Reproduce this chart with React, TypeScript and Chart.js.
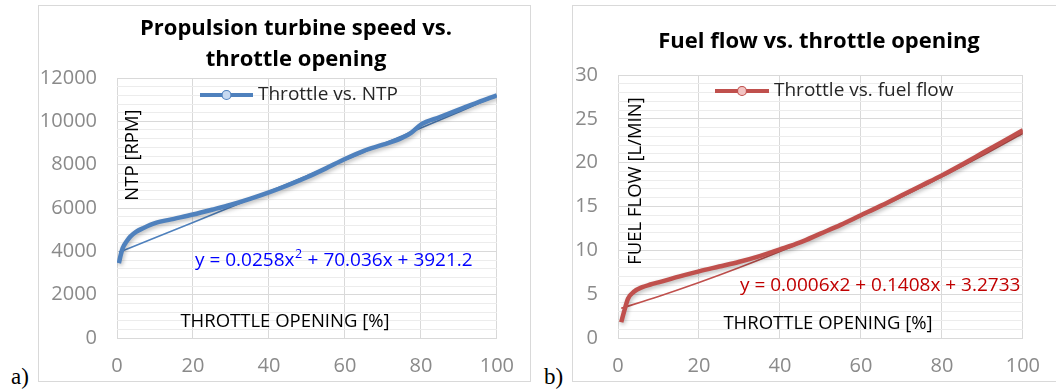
import React, { useEffect, useRef } from "react";
import { Chart, registerables } from "chart.js";

Chart.register(...registerables);

// ---------- Data ----------
const ntpThrottle = [0.5, 1, 1.5, 2.5, 3.5, 5, 7, 10, 15, 20, 25, 30, 35, 40, 45, 50, 55, 60, 65, 70, 75, 77.5, 80, 85, 90, 95, 100];
const ntpRpm = [3450, 3850, 4150, 4450, 4680, 4900, 5080, 5300, 5500, 5700, 5920, 6150, 6420, 6720, 7050, 7420, 7830, 8260, 8640, 8920, 9230, 9480, 9850, 10200, 10540, 10880, 11200];
const ntpTrendThrottle = [0.5, 10, 20, 30, 40, 50, 60, 70, 80, 90, 100];
const ntpTrendRpm = [3956, 4624, 5332, 6045, 6764, 7488, 8216, 8950, 9689, 10433, 11183];

const fuelThrottle = [0.8, 1.5, 2.5, 4, 6, 8, 10, 15, 20, 25, 30, 35, 40, 45, 50, 55, 60, 65, 70, 75, 80, 85, 90, 95, 100];
const fuelFlow = [1.8, 3.0, 4.5, 5.3, 5.8, 6.1, 6.35, 7.0, 7.6, 8.15, 8.7, 9.35, 10.1, 10.9, 11.9, 12.9, 14.0, 15.1, 16.25, 17.4, 18.55, 19.8, 21.1, 22.4, 23.7];
const fuelTrendThrottle = [0.8, 10, 20, 30, 40, 50, 60, 70, 80, 90, 100];
const fuelTrendFlow = [3.39, 4.74, 6.33, 8.04, 9.87, 11.81, 13.88, 16.07, 18.38, 20.81, 23.35];

const xTicks = [0, 20, 40, 60, 80, 100];
const ntpTicks = [0, 2000, 4000, 6000, 8000, 10000, 12000];
const fuelTicks = [0, 5, 10, 15, 20, 25, 30];

const FONT = "'Open Sans', 'DejaVu Sans', sans-serif";

type Deco = {
  offX: number;
  offY: number;
  titleLines: string[];
  titleX: number;
  titleY: number;
  titleGap: number;
  legendX1: number;
  legendX2: number;
  legendY: number;
  markerFill: string;
  yTitle: string;
  yTitleX: number;
  yTitleY: number;
  xTitle: string;
  xTitleX: number;
  xTitleY: number;
  eqParts: [string, string, string];
  eqX: number;
  eqY: number;
  eqColor: string;
};

function makeDecorPlugin(d: Deco) {
  return {
    id: "decor",
    beforeDatasetDraw(chart: any, args: any) {
      if (args.index === 0) {
        const ctx = chart.ctx;
        ctx.save();
        ctx.shadowColor = "rgba(0,0,0,0.28)";
        ctx.shadowBlur = 4;
        ctx.shadowOffsetX = 1;
        ctx.shadowOffsetY = 2;
      }
    },
    afterDatasetDraw(chart: any, args: any) {
      if (args.index === 0) chart.ctx.restore();
    },
    afterDraw(chart: any) {
      const ctx = chart.ctx;
      const ox = d.offX;
      const oy = d.offY;
      ctx.save();
      // Title
      ctx.fillStyle = "#000000";
      ctx.font = `bold 22px ${FONT}`;
      ctx.textAlign = "center";
      ctx.textBaseline = "middle";
      d.titleLines.forEach((t, i) => ctx.fillText(t, d.titleX - ox, d.titleY - oy + i * d.titleGap));

      // Legend
      const ds = chart.data.datasets[0];
      const ly = d.legendY - oy;
      ctx.strokeStyle = ds.borderColor;
      ctx.lineWidth = 4;
      ctx.lineCap = "butt";
      ctx.beginPath();
      ctx.moveTo(d.legendX1 - ox, ly);
      ctx.lineTo(d.legendX2 - ox, ly);
      ctx.stroke();
      ctx.beginPath();
      ctx.arc((d.legendX1 + d.legendX2) / 2 - ox, ly, 4.5, 0, Math.PI * 2);
      ctx.fillStyle = d.markerFill;
      ctx.fill();
      ctx.lineWidth = 1.2;
      ctx.stroke();
      ctx.fillStyle = "#262626";
      ctx.font = `19px ${FONT}`;
      ctx.textAlign = "left";
      ctx.fillText(ds.label, d.legendX2 + 5 - ox, ly);

      // Axis titles (inside plot area)
      ctx.fillStyle = "#000000";
      ctx.font = `18.5px ${FONT}`;
      ctx.textAlign = "center";
      ctx.fillText(d.xTitle, d.xTitleX - ox, d.xTitleY - oy);
      ctx.save();
      ctx.translate(d.yTitleX - ox, d.yTitleY - oy);
      ctx.rotate(-Math.PI / 2);
      ctx.fillText(d.yTitle, 0, 0);
      ctx.restore();

      // Trendline equation
      ctx.fillStyle = d.eqColor;
      ctx.textAlign = "left";
      ctx.font = `19px ${FONT}`;
      let x = d.eqX - ox;
      const y = d.eqY - oy;
      ctx.fillText(d.eqParts[0], x, y);
      x += ctx.measureText(d.eqParts[0]).width;
      if (d.eqParts[1]) {
        ctx.font = `12.5px ${FONT}`;
        ctx.fillText(d.eqParts[1], x + 0.5, y - 7);
        x += ctx.measureText(d.eqParts[1]).width + 1;
        ctx.font = `19px ${FONT}`;
      }
      ctx.fillText(d.eqParts[2], x, y);
      ctx.restore();
    },
  };
}

function buildConfig(opts: {
  xs: number[];
  ys: number[];
  txs: number[];
  tys: number[];
  label: string;
  color: string;
  yMax: number;
  yMinor: number;
  yMajor: number;
  yTickVals: number[];
  padTop: number;
  padRight: number;
  yWidth: number;
  xHeight: number;
  deco: Deco;
}) {
  const gridMajor = "#d9d9d9";
  const gridMinor = "#ececec";
  return {
    type: "line",
    data: {
      datasets: [
        {
          label: opts.label,
          data: opts.xs.map((x, i) => ({ x, y: opts.ys[i] })),
          borderColor: opts.color,
          borderWidth: 4.5,
          pointRadius: 0,
          cubicInterpolationMode: "monotone",
          fill: false,
          order: 0,
        },
        {
          label: "trend",
          data: opts.txs.map((x, i) => ({ x, y: opts.tys[i] })),
          borderColor: opts.color,
          borderWidth: 1.6,
          pointRadius: 0,
          cubicInterpolationMode: "monotone",
          fill: false,
          order: 1,
        },
      ],
    },
    options: {
      animation: false,
      responsive: false,
      devicePixelRatio: 1,
      layout: { padding: { left: 0, top: opts.padTop, right: opts.padRight, bottom: 0 } },
      plugins: {
        legend: { display: false },
        title: { display: false },
        tooltip: { enabled: false },
      },
      scales: {
        x: {
          type: "linear",
          min: 0,
          max: 100,
          afterBuildTicks: (s: any) => {
            s.ticks = xTicks.map((v) => ({ value: v }));
          },
          ticks: {
            color: "#8a8a8a",
            font: { family: FONT, size: 20 },
            padding: 16,
            maxRotation: 0,
            autoSkip: false,
          },
          grid: { color: gridMajor, drawTicks: false, lineWidth: 1 },
          border: { display: true, color: gridMajor },
          afterFit: (s: any) => {
            s.height = opts.xHeight;
          },
        },
        y: {
          min: 0,
          max: opts.yMax,
          ticks: {
            stepSize: opts.yMinor,
            autoSkip: false,
            color: "#8a8a8a",
            font: { family: FONT, size: 20 },
            padding: 20,
            callback: (v: number) => (opts.yTickVals.includes(Math.round(v)) && Math.round(v) % opts.yMajor === 0 ? String(Math.round(v)) : ""),
          },
          grid: {
            drawTicks: false,
            lineWidth: 1,
            color: (c: any) => (c.tick && Math.round(c.tick.value) % opts.yMajor === 0 ? gridMajor : gridMinor),
          },
          border: { display: false },
          afterFit: (s: any) => {
            s.width = opts.yWidth;
          },
        },
      },
    },
    plugins: [makeDecorPlugin(opts.deco)],
  };
}

function ChartCanvas({ config, left, top, width, height }: any) {
  const ref = useRef<HTMLCanvasElement | null>(null);
  useEffect(() => {
    if (!ref.current) return;
    const chart = new Chart(ref.current, config as any);
    return () => chart.destroy();
  }, []);
  return (
    <canvas
      ref={ref}
      width={width}
      height={height}
      style={{ position: "absolute", left, top, width, height }}
    />
  );
}

const configA = buildConfig({
  xs: ntpThrottle,
  ys: ntpRpm,
  txs: ntpTrendThrottle,
  tys: ntpTrendRpm,
  label: "Throttle vs. NTP",
  color: "#4f81bd",
  yMax: 12000,
  yMinor: 400,
  yMajor: 2000,
  yTickVals: ntpTicks,
  padTop: 73,
  padRight: 32,
  yWidth: 79,
  xHeight: 44,
  deco: {
    offX: 38,
    offY: 5,
    titleLines: ["Propulsion turbine speed vs.", "throttle opening"],
    titleX: 296,
    titleY: 29,
    titleGap: 31,
    legendX1: 200,
    legendX2: 253,
    legendY: 95,
    markerFill: "#c6d9f1",
    yTitle: "NTP [RPM]",
    yTitleX: 133,
    yTitleY: 155,
    xTitle: "THROTTLE OPENING [%]",
    xTitleX: 285,
    xTitleY: 322,
    eqParts: ["y = 0.0258x", "2", " + 70.036x + 3921.2"],
    eqX: 195,
    eqY: 261,
    eqColor: "#0000ff",
  },
});

const configB = buildConfig({
  xs: fuelThrottle,
  ys: fuelFlow,
  txs: fuelTrendThrottle,
  tys: fuelTrendFlow,
  label: "Throttle vs. fuel flow",
  color: "#c0504d",
  yMax: 30,
  yMinor: 1,
  yMajor: 5,
  yTickVals: fuelTicks,
  padTop: 70,
  padRight: 24,
  yWidth: 46,
  xHeight: 44,
  deco: {
    offX: 572,
    offY: 5,
    titleLines: ["Fuel flow vs. throttle opening"],
    titleX: 819,
    titleY: 42,
    titleGap: 31,
    legendX1: 715,
    legendX2: 769,
    legendY: 91,
    markerFill: "#f2c4c3",
    yTitle: "FUEL FLOW [L/MIN]",
    yTitleX: 636,
    yTitleY: 181,
    xTitle: "THROTTLE OPENING [%]",
    xTitleX: 828,
    xTitleY: 324,
    eqParts: ["y = 0.0006x2 + 0.1408x + 3.2733", "", ""],
    eqX: 740,
    eqY: 286,
    eqColor: "#c00000",
  },
});

export default function App() {
  return (
    <div
      style={{
        position: "fixed",
        left: 0,
        top: 0,
        width: 1056,
        height: 389,
        background: "#ffffff",
        overflow: "hidden",
      }}
    >
      <div
        style={{
          position: "absolute",
          left: 38,
          top: 5,
          width: 493,
          height: 377,
          border: "1px solid #d9d9d9",
          boxSizing: "border-box",
        }}
      />
      <div
        style={{
          position: "absolute",
          left: 572,
          top: 5,
          width: 500,
          height: 377,
          border: "1px solid #d9d9d9",
          boxSizing: "border-box",
        }}
      />
      <ChartCanvas config={configA} left={38} top={5} width={492} height={377} />
      <ChartCanvas config={configB} left={572} top={5} width={484} height={377} />
      <div
        style={{
          position: "absolute",
          left: 11,
          top: 365,
          fontFamily: "'Liberation Serif', 'Times New Roman', serif",
          fontSize: 23,
          lineHeight: "24px",
          color: "#000",
        }}
      >
        a)
      </div>
      <div
        style={{
          position: "absolute",
          left: 544,
          top: 365,
          fontFamily: "'Liberation Serif', 'Times New Roman', serif",
          fontSize: 23,
          lineHeight: "24px",
          color: "#000",
        }}
      >
        b)
      </div>
    </div>
  );
}
